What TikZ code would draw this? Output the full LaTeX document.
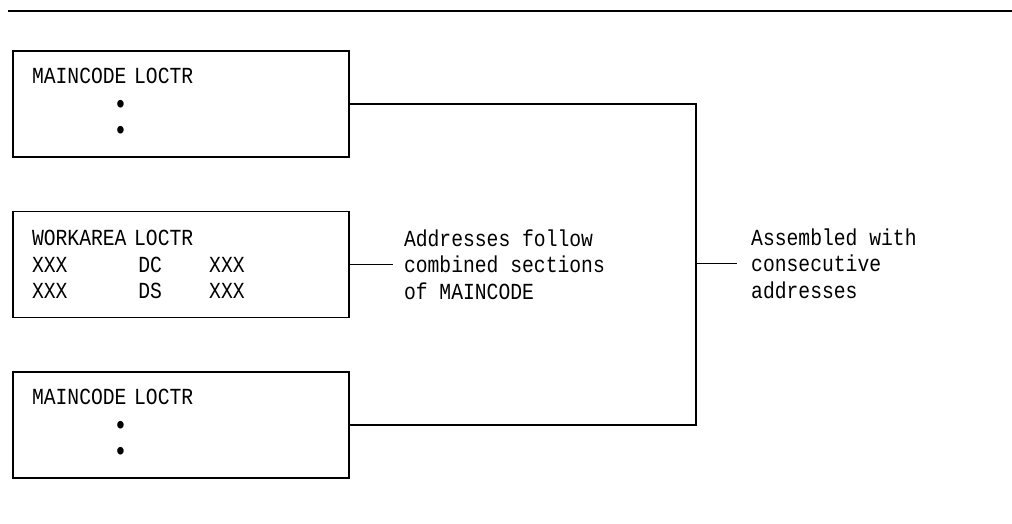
\documentclass[tikz,border=0pt]{standalone}
\usepackage{fontspec}
\setmonofont[FakeStretch=0.856]{Liberation Mono}
\usepackage{tikz}
\usetikzlibrary{positioning}
\newcommand{\codefont}{\ttfamily\fontsize{23}{26.5}\selectfont}
\newcommand{\skipcols}[1]{\hspace*{#1\fontcharwd\font`\X}}
\newcommand{\bigdot}{\makebox[\fontcharwd\font`\X]{\raisebox{-3pt}{\fontsize{28}{26.5}\selectfont•}}}
\tikzset{
    listing/.style = {rectangle, draw=black, line width=1.6pt, minimum width=336pt, minimum height=106pt, text width=298pt, inner xsep=19pt, inner ysep=0pt, align=left, font=\codefont},
    note/.style = {inner sep=0pt, align=left, anchor=west, font=\codefont},
    wire/.style = {line width=1.6pt}
}
\begin{document}
\begin{tikzpicture}[x=1pt, y=-1pt]
    \useasboundingbox (0,0) rectangle (1012,523);

    % Rule
    \coordinate (rulel) at (8,11);
    \coordinate (ruler) at (1012,11);
    \draw[line width=1.6pt] (rulel) -- (ruler);

    % Source boxes
    \node[listing] (main1) at (181,104) {MAINCODE LOCTR\\\skipcols{7}\bigdot\\\skipcols{7}\bigdot};
    \node[listing, below=53pt of main1] (wkarea) {WORKAREA LOCTR\\XXX\skipcols{6}DC\skipcols{4}XXX\\XXX\skipcols{6}DS\skipcols{4}XXX};
    \node[listing, below=53pt of wkarea] (main2) {MAINCODE LOCTR\\\skipcols{7}\bigdot\\\skipcols{7}\bigdot};

    % Notes
    \node[note, right=54pt of wkarea] (addr) {Addresses follow\\combined sections\\of MAINCODE};
    \coordinate (bus) at (696,263.5);
    \node[note, right=55pt of bus] (asm) {Assembled with\\consecutive\\addresses};

    % Connectors
    \draw[wire] (wkarea.east) -- ([xshift=-11pt]addr.west);
    \draw[wire] (main1.east) -| (bus) |- (main2.east);
    \draw[wire] (bus) -- ([xshift=-14pt]asm.west);
\end{tikzpicture}
\end{document}
